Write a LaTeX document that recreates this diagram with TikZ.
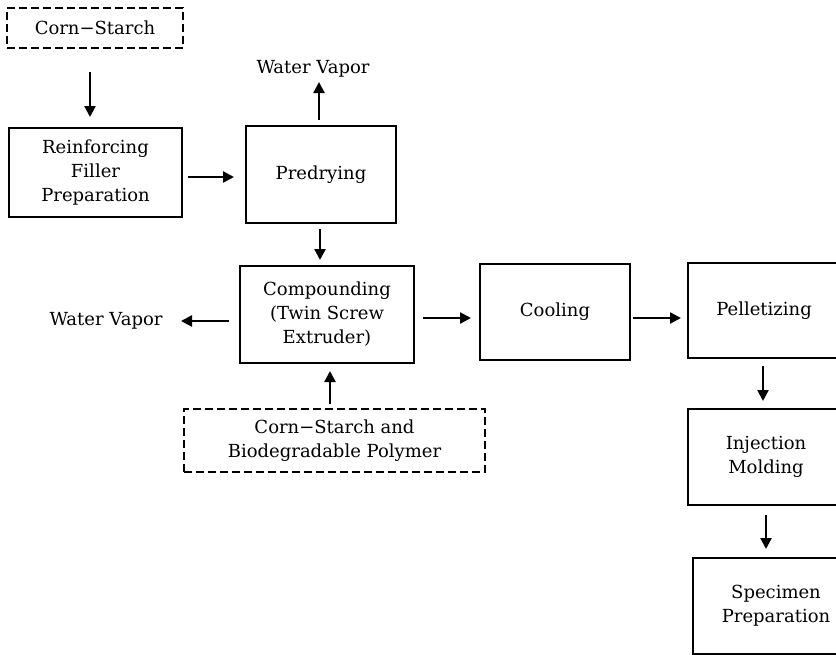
\documentclass[tikz,border=0pt]{standalone}
\usepackage{fontspec}
\setmainfont{DejaVu Serif}
\usetikzlibrary{arrows.meta}
\begin{document}
\begin{tikzpicture}[x=1pt,y=-1pt,
  font=\fontsize{18}{24}\selectfont,
  box/.style={draw, line width=2.6pt, align=center, inner sep=0pt},
  dbox/.style={box, line width=2.3pt, dash pattern=on 8pt off 4pt},
  lbl/.style={align=center, inner sep=0pt},
  flow/.style={line width=2.3pt, -{Triangle[length=11pt,width=11pt]}}]
\useasboundingbox (0,0) rectangle (836,654);
\clip (0,0) rectangle (836,654);
% nodes
\node[dbox, minimum width=176, minimum height=40] (cs) at (95,28) {Corn−Starch};
\node[box, minimum width=173, minimum height=89] (rf) at (95.5,172.5) {Reinforcing\\Filler\\Preparation};
\node[box, minimum width=150, minimum height=97] (pd) at (321,174.5) {Predrying};
\node[lbl] (wv1) at (313,69) {Water Vapor};
\node[box, minimum width=174, minimum height=97] (cp) at (327,314.5) {Compounding\\(Twin Screw\\Extruder)};
\node[lbl] (wv2) at (106,321) {Water Vapor};
\node[dbox, minimum width=301, minimum height=63] (cb) at (334.5,440.5) {Corn−Starch and\\Biodegradable Polymer};
\node[box, minimum width=150, minimum height=96] (co) at (555,312) {Cooling};
\node[box, minimum width=152, minimum height=95] (pe) at (764,310.5) {Pelletizing};
\node[box, minimum width=156, minimum height=96] (im) at (766,457) {Injection\\Molding};
\node[box, minimum width=166, minimum height=96] (sp) at (776,606) {Specimen\\Preparation};
% connector end points
\coordinate (a1) at (90,72);   \coordinate (a2) at (90,117);
\coordinate (b1) at (188,177); \coordinate (b2) at (234,177);
\coordinate (c1) at (319,120); \coordinate (c2) at (319,82);
\coordinate (d1) at (320,229); \coordinate (d2) at (320,260);
\coordinate (e1) at (229,321); \coordinate (e2) at (181,321);
\coordinate (f1) at (423,318); \coordinate (f2) at (471,318);
\coordinate (g1) at (633,318); \coordinate (g2) at (681,318);
\coordinate (h1) at (330,404); \coordinate (h2) at (330,371);
\coordinate (i1) at (763,366); \coordinate (i2) at (763,401);
\coordinate (j1) at (766,515); \coordinate (j2) at (766,549);
% connectors
\draw[flow] (a1) -- (a2);
\draw[flow] (b1) -- (b2);
\draw[flow] (c1) -- (c2);
\draw[flow] (d1) -- (d2);
\draw[flow] (e1) -- (e2);
\draw[flow] (f1) -- (f2);
\draw[flow] (g1) -- (g2);
\draw[flow] (h1) -- (h2);
\draw[flow] (i1) -- (i2);
\draw[flow] (j1) -- (j2);
\end{tikzpicture}
\end{document}
